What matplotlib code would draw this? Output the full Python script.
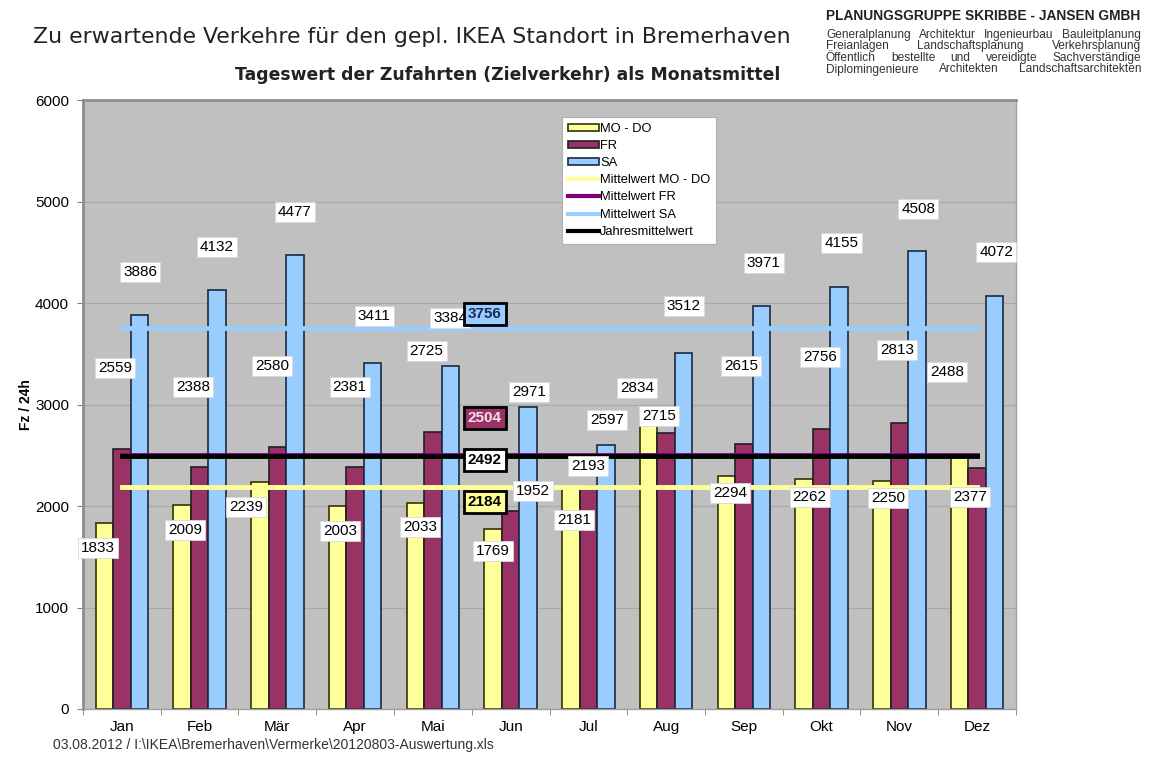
import numpy as np
import matplotlib
matplotlib.use('Agg')
import matplotlib.pyplot as plt
from matplotlib.patches import Patch
from matplotlib.lines import Line2D

plt.rcParams['font.family'] = ['Liberation Sans', 'DejaVu Sans']

# Daten
monate = ['Jan', 'Feb', 'Mär', 'Apr', 'Mai', 'Jun', 'Jul', 'Aug', 'Sep', 'Okt', 'Nov', 'Dez']
mo_do = [1833, 2009, 2239, 2003, 2033, 1769, 2181, 2834, 2294, 2262, 2250, 2488]
fr = [2559, 2388, 2580, 2381, 2725, 1952, 2193, 2715, 2615, 2756, 2813, 2377]
sa = [3886, 4132, 4477, 3411, 3384, 2971, 2597, 3512, 3971, 4155, 4508, 4072]
mittel_mo_do = 2184
mittel_fr = 2504
mittel_sa = 3756
jahresmittel = 2492

# Farben
c_mo = '#FFFF99'
c_fr = '#993366'
c_sa = '#99CCFF'
c_fr_mittel = '#800080'

# Label-Versatz (Kategorie-Einheiten, Werte-Einheiten)
mo_dx = [-0.08, 0.04, -0.18, 0.03, 0.06, 0.0, 0.04, -0.15, 0.05, 0.07, 0.08, -0.16]
mo_dy = [-247, -245, -249, -249, -240, -212, -319, 329, -166, -173, -171, 832]
fr_dx = [-0.09, -0.085, -0.07, -0.07, -0.08, 0.29, 0.0, -0.09, -0.04, -0.02, -0.03, -0.09]
fr_dy = [801, 784, 799, 791, 802, 196, 201, 172, 764, 712, 724, -288]
sa_dx = [0.01, 0.0, 0.0, 0.02, 0.0, 0.01, 0.02, 0.0, 0.03, 0.03, 0.02, 0.02]
sa_dy = [419, 420, 420, 461, 468, 152, 250, 458, 423, 436, 418, 430]

W, H = 1154, 762
fig = plt.figure(figsize=(W / 100, H / 100), dpi=100)
ax = fig.add_axes([83 / W, 1 - 709 / H, (1016 - 83) / W, (709 - 100) / H])
ax.set_facecolor('#C0C0C0')

x = np.arange(len(monate))
bw = 0.225
ax.bar(x - bw, mo_do, bw, color=c_mo, edgecolor='#333300', linewidth=1.2, zorder=2)
ax.bar(x, fr, bw, color=c_fr, edgecolor='#202020', linewidth=1.2, zorder=2)
ax.bar(x + bw, sa, bw, color=c_sa, edgecolor='#1a2a40', linewidth=1.2, zorder=2)

# Mittelwertlinien
ax.plot([x[0], x[-1]], [mittel_mo_do] * 2, color=c_mo, lw=3.5, zorder=3)
ax.plot([x[0], x[-1]], [mittel_fr] * 2, color=c_fr_mittel, lw=3.5, zorder=3)
ax.plot([x[0], x[-1]], [mittel_sa] * 2, color=c_sa, lw=3.5, zorder=3)
ax.plot([x[0], x[-1]], [jahresmittel] * 2, color='black', lw=3.5, zorder=3)

box = dict(boxstyle='square,pad=0.2', fc='white', ec='#d8d8d8', lw=0.6)
for i in range(len(monate)):
    ax.text(x[i] - bw + mo_dx[i], mo_do[i] + mo_dy[i], str(mo_do[i]), ha='center', va='center',
            fontsize=11, bbox=box, zorder=5)
    ax.text(x[i] + fr_dx[i], fr[i] + fr_dy[i], str(fr[i]), ha='center', va='center',
            fontsize=11, bbox=box, zorder=5)
    ax.text(x[i] + bw + sa_dx[i], sa[i] + sa_dy[i], str(sa[i]), ha='center', va='center',
            fontsize=11, bbox=box, zorder=5)

# Mittelwert-Beschriftungen
mx = 4.67
ax.text(mx, mittel_sa + 136, str(mittel_sa), ha='center', va='center', fontsize=11,
        fontweight='bold', color='#1a2a55', zorder=6,
        bbox=dict(boxstyle='square,pad=0.25', fc=c_sa, ec='black', lw=2))
ax.text(mx, mittel_fr + 363, str(mittel_fr), ha='center', va='center', fontsize=11,
        fontweight='bold', color='#f4e0ea', zorder=6,
        bbox=dict(boxstyle='square,pad=0.25', fc=c_fr, ec='black', lw=2))
ax.text(mx, jahresmittel - 39, str(jahresmittel), ha='center', va='center', fontsize=11,
        fontweight='bold', color='black', zorder=6,
        bbox=dict(boxstyle='square,pad=0.25', fc='white', ec='black', lw=2))
ax.text(mx, mittel_mo_do - 145, str(mittel_mo_do), ha='center', va='center', fontsize=11,
        fontweight='bold', color='black', zorder=6,
        bbox=dict(boxstyle='square,pad=0.25', fc=c_mo, ec='black', lw=2))

# Achsen
ax.set_xlim(-0.5, 11.5)
ax.set_ylim(0, 6000)
ax.set_yticks(range(0, 6001, 1000))
ax.set_xticks(x)
ax.set_xticklabels(monate, fontsize=11)
ax.set_xticks(np.arange(-0.5, 12, 1), minor=True)
ax.tick_params(axis='x', which='major', length=0, pad=8)
ax.tick_params(axis='x', which='minor', length=4, color='#808080', direction='out')
ax.tick_params(axis='y', labelsize=11, length=4, color='#808080', pad=6)
ax.yaxis.grid(True, color='#A8A8A8', lw=0.8, zorder=0)
ax.set_axisbelow(True)
for s in ['top', 'left']:
    ax.spines[s].set_color('#8c8c8c')
    ax.spines[s].set_linewidth(2)
for s in ['right', 'bottom']:
    ax.spines[s].set_color('#a0a0a0')
    ax.spines[s].set_linewidth(1)
ax.set_ylabel('Fz / 24h', fontsize=10, fontweight='bold')
ax.yaxis.set_label_coords((33 - 83) / (1016 - 83), 0.5)

# Legende
handles = [
    Patch(fc=c_mo, ec='#333300', lw=1.2, label='MO - DO'),
    Patch(fc=c_fr, ec='#202020', lw=1.2, label='FR'),
    Patch(fc=c_sa, ec='#1a2a40', lw=1.2, label='SA'),
    Line2D([], [], color=c_mo, lw=3, label='Mittelwert MO - DO'),
    Line2D([], [], color=c_fr_mittel, lw=3, label='Mittelwert FR'),
    Line2D([], [], color=c_sa, lw=3, label='Mittelwert SA'),
    Line2D([], [], color='black', lw=3, label='Jahresmittelwert'),
]
leg = fig.legend(handles=handles, loc='upper left', bbox_to_anchor=(562 / W, 1 - 117 / H),
                 fontsize=9.3, frameon=True, fancybox=False, framealpha=1,
                 handlelength=2.4, handleheight=0.5, handletextpad=0.1, labelspacing=0.4,
                 borderpad=0.45, borderaxespad=0)
leg.get_frame().set_edgecolor('#b0b0b0')
leg.get_frame().set_linewidth(0.8)

# Titel
fig.text(33 / W, 1 - 37 / H, 'Zu erwartende Verkehre für den gepl. IKEA Standort in Bremerhaven',
         fontsize=15.8, family='DejaVu Sans', va='center', ha='left', color='#222222')
fig.text(780 / W, 1 - 75 / H, 'Tageswert der Zufahrten (Zielverkehr) als Monatsmittel',
         fontsize=12.4, family='DejaVu Sans', fontweight='bold', va='center', ha='right',
         color='#222222')

# Kopf rechts
fig.text(826 / W, 1 - 16 / H, 'PLANUNGSGRUPPE SKRIBBE - JANSEN GMBH', fontsize=9.9,
         fontweight='bold', va='center', ha='left', color='#222222')
zeilen = ['Generalplanung Architektur Ingenieurbau Bauleitplanung',
          'Freianlagen Landschaftsplanung Verkehrsplanung',
          'Öffentlich bestellte und vereidigte Sachverständige',
          'Diplomingenieure Architekten Landschaftsarchitekten']
zeilen_y = [38, 49.5, 61, 72.5]  # Grundlinien
x0, x1 = 826, 1141
renderer = fig.canvas.get_renderer()
for zeile, yy in zip(zeilen, zeilen_y):
    worte = zeile.split()
    texte = [fig.text(0, 1 - yy / H, w, fontsize=8.6, va='baseline', ha='left', color='#333333')
             for w in worte]
    breiten = [t.get_window_extent(renderer).width for t in texte]
    luecke = (x1 - x0 - sum(breiten)) / (len(worte) - 1)
    pos = x0
    for t, b in zip(texte, breiten):
        t.set_x(pos / W)
        pos += b + luecke

# Fusszeile
fig.text(53 / W, 1 - 745 / H, '03.08.2012 / I:\\IKEA\\Bremerhaven\\Vermerke\\20120803-Auswertung.xls',
         fontsize=10, va='center', ha='left', color='#333333')

fig.savefig('out.png', dpi=100)
